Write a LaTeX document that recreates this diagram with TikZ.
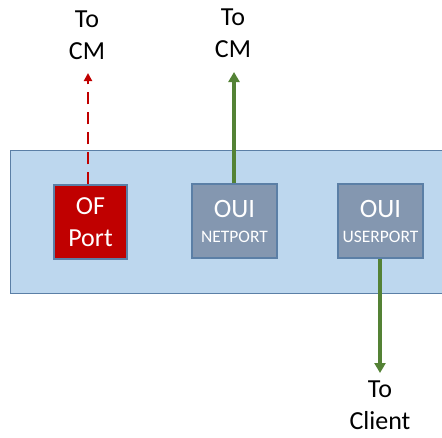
\documentclass[tikz,border=0pt]{standalone}
\usepackage{fontspec}
\setmainfont{Carlito}
\usetikzlibrary{arrows.meta}
\definecolor{panelfill}{HTML}{BDD7EE}
\definecolor{panelline}{HTML}{5B7FA6}
\definecolor{ofred}{HTML}{C00000}
\definecolor{ouigrey}{HTML}{8497B0}
\definecolor{linkgreen}{HTML}{548235}
\tikzset{
  portbox/.style={draw=panelline, line width=1.2pt, minimum width=73pt, minimum height=74pt,
    inner sep=0pt, align=center, text=white},
  ouibox/.style={portbox, fill=ouigrey, minimum width=85pt, font=\fontsize{17.5}{25}\selectfont},
  lbl/.style={align=center, inner sep=0pt, font=\fontsize{26}{32}\selectfont, text=black},
  cmlink/.style={linkgreen, line width=3.2pt, -{Triangle[length=10pt,width=11pt]}},
  oflink/.style={ofred, line width=2.6pt, dash pattern=on 12pt off 8pt, -{Triangle[length=8pt,width=8pt]}},
}
\begin{document}
\begin{tikzpicture}[x=1pt,y=-1pt]
  \useasboundingbox (0,0) rectangle (442,437);
  \clip (0,0) rectangle (442,437);
  % switch panel
  \node[draw=panelline, fill=panelfill, line width=1.2pt, minimum width=450pt, minimum height=143pt,
    anchor=north west, inner sep=0pt] (panel) at (10,150) {};
  % ports
  \node[portbox, fill=ofred, font=\fontsize{26}{32}\selectfont] (of) at (90.5,222) {OF\\Port};
  \node[ouibox] (net) at (234.5,221)
    {{\fontsize{26.5}{25}\selectfont OUI}\\NETPORT};
  \node[ouibox] (usr) at (380.5,221)
    {{\fontsize{26.5}{25}\selectfont OUI}\\USERPORT};
  % labels
  \node[lbl] (cm1) at (87,35) {To\\CM};
  \node[lbl] (cm2) at (233,33) {To\\CM};
  \node[lbl] (cli) at (380,405) {To\\Client};
  % links
  \coordinate (oftip) at (88,73);
  \coordinate (nettip) at (234,72);
  \coordinate (clitip) at (380,373);
  \draw[oflink] (of.north -| oftip) -- (oftip);
  \draw[cmlink] (net.north -| nettip) -- (nettip);
  \draw[cmlink] (usr.south -| clitip) -- (clitip);
\end{tikzpicture}
\end{document}
